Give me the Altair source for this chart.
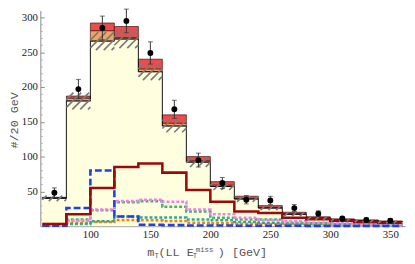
import altair as alt
import pandas as pd
import numpy as np

# ---------------- data ----------------
edges = [60, 80, 100, 120, 140, 160, 180, 200, 220, 240, 260, 280, 300, 320, 340, 360]
bkg_yellow = [40, 180, 266, 269, 222, 144, 92, 57, 39, 26, 17, 11.5, 9, 7.5, 6]
bkg_orange_top = [41, 184, 281, 271, 226, 148, 94, 59, 40, 27, 18, 12, 9.5, 8, 6.5]
bkg_red_top = [41.5, 187, 292, 287, 240, 160, 100, 64, 43, 29.5, 20, 13.5, 10.5, 9, 7.5]
bkg_unc = [4, 12, 13, 13, 12, 9, 7, 5, 4, 3, 3, 2.5, 2, 2, 2]

obs = [48, 197, 285, 295, 249, 168, 95, 62, 38, 37, 26, 18, 11, 9, 8]
obs_err = [7, 14, 17, 17, 16, 13, 10, 8, 6, 6, 5, 4, 3, 3, 3]

s_darkred = [3, 17, 55, 85, 90, 77, 52, 35, 21, 19, 12, 10, 8, 6, 5]
s_blue = [0.5, 26, 80, 14, 2, 1.5, 1, 1, 0.5, 0.5, 0.5, 0.3, 0.3, 0.2, 0.2]
s_violet = [1, 8, 24, 36, 38, 35, 24, 17, 12, 9, 7, 5, 4, 3, 2.5]
s_green = [1, 9.5, 23, 34.5, 36, 28, 21, 12, 9.5, 9.5, 5, 4, 3, 2.5, 2]
s_teal = [0.5, 3, 7, 14, 12.4, 12.4, 9.6, 8.5, 6, 5, 4, 3, 2.5, 2, 1.5]
s_orange = [3, 5, 6, 9, 8.5, 7.5, 5, 4, 3.5, 3, 2.5, 2, 2, 1.5, 1.5]

y_major = [50, 100, 150, 200, 250, 300]
y_minor = [v for v in range(10, 310, 10) if v % 50 != 0]
x_major = [100, 150, 200, 250, 300, 350]
x_minor = [v for v in range(60, 361, 10) if v % 50 != 0]

# ---------------- layout ----------------
W, H = 372, 220
XDOM = [58.3, 362.3]
YDOM = [0, 310]
xs = alt.Scale(domain=XDOM, nice=False, zero=False)
ys = alt.Scale(domain=YDOM, nice=False, zero=False)

left = edges[:-1]
right = edges[1:]
centers = [(a + b) / 2 for a, b in zip(left, right)]

bars = pd.DataFrame({
    "left": left, "right": right,
    "yel": bkg_yellow, "ora": bkg_orange_top, "red": bkg_red_top,
})
pts = pd.DataFrame({
    "x": centers, "y": obs,
    "lo": [o - e for o, e in zip(obs, obs_err)],
    "hi": [o + e for o, e in zip(obs, obs_err)],
})


def step_df(vals):
    return pd.DataFrame({"x": edges, "y": list(vals) + [vals[-1]]})


# hatch segments derived from the uncertainty band
kx = W / (XDOM[1] - XDOM[0])
ky = H / (YDOM[1] - YDOM[0])
rows = []
for a, b, c, e in zip(left, right, bkg_yellow, bkg_unc):
    lo, hi = c - e, c + e
    span = (hi - lo) * ky / kx
    sp = 8 / kx
    for k in range(int(np.floor((a - span) / sp)) - 1, int(np.ceil(b / sp)) + 1):
        xa, xb = k * sp, k * sp + span
        ca, cb = max(xa, a), min(xb, b)
        if cb - ca <= 0.3:
            continue
        ya = lo + (ca - xa) / span * (hi - lo)
        yb = lo + (cb - xa) / span * (hi - lo)
        rows.append({"x": ca, "x2": cb, "y": ya, "y2": yb})
hatch = pd.DataFrame(rows)

AX_GRAY = "#8a8a8a"
LABEL_FONT = "Liberation Serif, Times New Roman, serif"
MONO = "Liberation Mono, Courier New, monospace"

yellow = alt.Chart(bars).mark_rect(color="#ffffe0").encode(
    x=alt.X("left:Q", scale=xs, axis=alt.Axis(values=x_major, tickSize=0, labelFont=LABEL_FONT,
                                            labelFontSize=11, labelColor="#222", domainColor=AX_GRAY,
                                            labelPadding=3, title=None, grid=False, format="d")),
    x2="right:Q",
    y=alt.Y("yel:Q", scale=ys, axis=alt.Axis(values=y_major, tickSize=0, labelFont=LABEL_FONT,
                                           labelFontSize=11, labelColor="#222", domainColor=AX_GRAY,
                                           labelPadding=3, title=None, grid=False, format="d")),
    y2=alt.datum(0),
)
orange = alt.Chart(bars).mark_rect(color="#f4a460", stroke="#3a2a1a", strokeWidth=0.7).encode(
    x=alt.X("left:Q", scale=xs, axis=None), x2="right:Q",
    y=alt.Y("yel:Q", scale=ys, axis=None), y2="ora:Q",
)
red = alt.Chart(bars).mark_rect(color="#ee4c4c", stroke="#3a1010", strokeWidth=0.7).encode(
    x=alt.X("left:Q", scale=xs, axis=None), x2="right:Q",
    y=alt.Y("ora:Q", scale=ys, axis=None), y2="red:Q",
)
outline = alt.Chart(step_df(bkg_yellow)).mark_line(interpolate="step-after", color="#111", strokeWidth=1).encode(
    x=alt.X("x:Q", scale=xs, axis=None), y=alt.Y("y:Q", scale=ys, axis=None)
)

series = [
    (s_orange, "#ff8000", [3, 2]),
    (s_teal, "#2aa8a0", [3, 2]),
    (s_green, "#3cb86a", [3, 2]),
    (s_violet, "#f07ef0", [3, 2]),
    (s_blue, "#1e40e8", [7, 3]),
    (s_darkred, "#9b0a0a", None),
]
line_layers = []
for vals, col, dash in series:
    kw = dict(interpolate="step-after", color=col, strokeWidth=2.6)
    if dash:
        kw["strokeDash"] = dash
    line_layers.append(
        alt.Chart(step_df(vals)).mark_line(**kw).encode(
            x=alt.X("x:Q", scale=xs, axis=None), y=alt.Y("y:Q", scale=ys, axis=None)
        )
    )

hatch_layer = alt.Chart(hatch).mark_rule(color="#7a7a7a", strokeWidth=1.7).encode(
    x=alt.X("x:Q", scale=xs, axis=None), x2="x2:Q",
    y=alt.Y("y:Q", scale=ys, axis=None), y2="y2:Q",
)

ebar = alt.Chart(pts).mark_rule(color="#333", strokeWidth=1).encode(
    x=alt.X("x:Q", scale=xs, axis=None), y=alt.Y("lo:Q", scale=ys, axis=None), y2="hi:Q"
)
cap_hi = alt.Chart(pts).mark_tick(color="#333", orient="horizontal", size=5, thickness=1).encode(
    x=alt.X("x:Q", scale=xs, axis=None), y=alt.Y("hi:Q", scale=ys, axis=None)
)
cap_lo = alt.Chart(pts).mark_tick(color="#333", orient="horizontal", size=5, thickness=1).encode(
    x=alt.X("x:Q", scale=xs, axis=None), y=alt.Y("lo:Q", scale=ys, axis=None)
)
dots = alt.Chart(pts).mark_circle(color="black", size=36, opacity=1).encode(
    x=alt.X("x:Q", scale=xs, axis=None), y=alt.Y("y:Q", scale=ys, axis=None)
)

# inward ticks: axes on opposite side moved onto the plot edge
tick_major = alt.Chart(pts).mark_point(opacity=0).encode(
    x=alt.X("x:Q", scale=xs, axis=alt.Axis(orient="top", offset=-H, values=x_major, labels=False,
                                         domain=False, tickSize=4, tickColor=AX_GRAY, title=None, grid=False)),
    y=alt.Y("y:Q", scale=ys, axis=alt.Axis(orient="right", offset=-W, values=y_major, labels=False,
                                         domain=False, tickSize=4, tickColor=AX_GRAY, title=None, grid=False)),
)
tick_minor = alt.Chart(pts).mark_point(opacity=0).encode(
    x=alt.X("x:Q", scale=xs, axis=alt.Axis(orient="top", offset=-H, values=x_minor, labels=False,
                                         domain=False, tickSize=2, tickColor="#b0b0b0", title=None, grid=False)),
    y=alt.Y("y:Q", scale=ys, axis=alt.Axis(orient="right", offset=-W, values=y_minor, labels=False,
                                         domain=False, tickSize=2, tickColor="#b0b0b0", title=None, grid=False)),
)

# titles (monospace, with sub/superscripts)
one = pd.DataFrame({"a": [0]})
TX0, TY0 = 41, 8  # plot origin on the page
TCOL = "#555"


def txt(s, px, py, size, align="left", angle=0, baseline="alphabetic"):
    return alt.Chart(one).mark_text(text=s, font=MONO, fontSize=size, color=TCOL, align=align,
                                    baseline=baseline, angle=angle).encode(
        x=alt.value(px - TX0), y=alt.value(py - TY0)
    )


BL = 258.5
title_layers = [
    txt("m", 150, BL, 12),
    txt("T", 157.5, BL + 2, 7.5),
    txt("(LL E", 161.5, BL, 12),
    txt("T", 196.5, BL + 2, 7.5),
    txt("miss", 199.5, BL - 4, 7.5),
    txt(") [GeV]", 222, BL, 12),
    txt("#/20 GeV", 14.5, 120, 12, align="center", angle=270, baseline="middle"),
]

chart = alt.layer(
    yellow, orange, red, outline, *line_layers, hatch_layer, ebar, cap_hi, cap_lo, dots,
    tick_major, tick_minor, *title_layers
).resolve_axis(x="independent", y="independent").properties(
    width=W, height=H,
    autosize=alt.AutoSizeParams(type="none"),
    padding={"left": 33, "top": 0, "right": 2, "bottom": 34},
).configure_view(stroke=None).configure_axis(domainWidth=1)

chart.save("out.html", embed_options={"renderer": "svg", "actions": False})
